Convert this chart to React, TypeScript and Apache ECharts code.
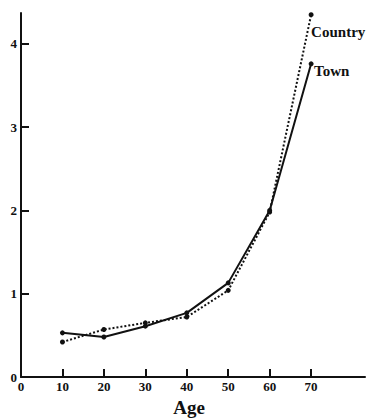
import React, { useEffect, useRef } from "react";
import * as echarts from "echarts";

const ages = [10, 20, 30, 40, 50, 60, 70];
const town = [0.53, 0.48, 0.61, 0.77, 1.13, 2.0, 3.76];
const country = [0.42, 0.57, 0.65, 0.72, 1.04, 1.98, 4.35];
const xTickValues = [10, 20, 30, 40, 50, 60, 70];
const xLabelValues = [0, 10, 20, 30, 40, 50, 60, 70];
const yTickValues = [1, 2, 3, 4];
const yLabelValues = [0, 1, 2, 3, 4];

const FONT = "'Liberation Serif', 'DejaVu Serif', serif";

export default function App() {
  const ref = useRef<HTMLDivElement>(null);
  useEffect(() => {
    if (!ref.current) return;
    const chart = echarts.init(ref.current, null, { renderer: "svg" });
    const common = {
      type: "line",
      symbol: "circle",
      symbolSize: 5,
      itemStyle: { color: "#111" },
      z: 3,
    };
    const endLabelStyle = {
      show: true,
      formatter: "{a}",
      fontFamily: FONT,
      fontWeight: "bold",
      fontSize: 15,
      color: "#111",
      distance: 2,
    };
    chart.setOption({
      animation: false,
      backgroundColor: "#fff",
      grid: { left: 21, right: 7, top: 13, bottom: 41, containLabel: false, outerBoundsMode: "none" },
      xAxis: {
        type: "value",
        min: 0,
        max: 83,
        name: "Age",
        nameLocation: "middle",
        nameGap: 21,
        nameTextStyle: { fontFamily: FONT, fontWeight: "bold", fontSize: 19, color: "#111", padding: [0, 0, 0, -8] },
        axisLine: { onZero: false, lineStyle: { color: "#111", width: 2 } },
        axisTick: { show: true, inside: true, length: 8, customValues: xTickValues, lineStyle: { color: "#111", width: 2 } },
        axisLabel: { customValues: xLabelValues, fontFamily: FONT, fontWeight: "bold", fontSize: 13, color: "#111", margin: 3 },
        splitLine: { show: false },
      },
      yAxis: {
        type: "value",
        min: 0,
        max: 4.37,
        axisLine: { show: true, lineStyle: { color: "#111", width: 2 } },
        axisTick: { show: true, inside: true, length: 8, customValues: yTickValues, lineStyle: { color: "#111", width: 2 } },
        axisLabel: { customValues: yLabelValues, fontFamily: FONT, fontWeight: "bold", fontSize: 13, color: "#111", margin: 4 },
        splitLine: { show: false },
      },
      series: [
        {
          ...common,
          name: "Town",
          data: ages.map((a, i) => [a, town[i]]),
          lineStyle: { color: "#111", width: 2, type: "solid" },
          endLabel: { ...endLabelStyle, offset: [1, 7] },
        },
        {
          ...common,
          name: "Country",
          data: ages.map((a, i) => [a, country[i]]),
          lineStyle: { color: "#111", width: 2, type: [2, 2] },
          endLabel: { ...endLabelStyle, offset: [-2, 17] },
        },
      ],
    });
    return () => chart.dispose();
  }, []);
  return (
    <div
      ref={ref}
      style={{ position: "fixed", left: 0, top: 0, width: 372, height: 418, background: "#fff" }}
    />
  );
}
